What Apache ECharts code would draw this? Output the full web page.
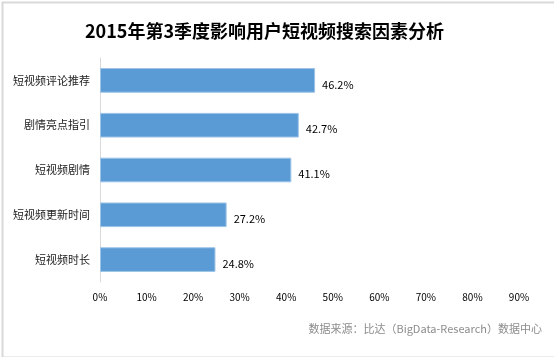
<!DOCTYPE html>
<html><head><meta charset="utf-8">
<script src="https://cdn.jsdelivr.net/npm/echarts@6/dist/echarts.min.js"></script>
<style>html,body{margin:0;padding:0;background:#fff}#c{width:554px;height:357px}</style>
</head><body><div id="c"></div>
<script>
const categories = ['短视频评论推荐', '剧情亮点指引', '短视频剧情', '短视频更新时间', '短视频时长'];
const values = [46.2, 42.7, 41.1, 27.2, 24.8];
const xTicks = [0, 10, 20, 30, 40, 50, 60, 70, 80, 90];
const titleText = '2015年第3季度影响用户短视频搜索因素分析';
const sourceText = '数据来源：比达（BigData-Research）数据中心';

const chart = echarts.init(document.getElementById('c'));
chart.setOption({
  animation: false,
  backgroundColor: '#fff',
  title: {
    text: titleText, left: 80, top: 17,
    textStyle: { fontFamily: 'Noto Sans CJK SC', fontSize: 18, fontWeight: 'bold', color: '#000' }
  },
  graphic: [
    { type: 'rect', left: 0, top: 0, shape: { width: 553, height: 355 }, style: { fill: 'none', stroke: '#d9d9d9', lineWidth: 2 }, silent: true },
    { type: 'text', right: 12, top: 323, style: { text: sourceText, fill: '#8c8c8c', font: '11px "Noto Sans CJK SC"' } }
  ],
  grid: { left: 100, right: 35, top: 58, bottom: 75, containLabel: false },
  xAxis: {
    type: 'value', min: xTicks[0], max: xTicks[xTicks.length - 1], interval: 10,
    axisLine: { show: false }, axisTick: { show: false }, splitLine: { show: false },
    axisLabel: { formatter: '{value}%', fontSize: 10, color: '#000', fontFamily: 'Noto Sans CJK SC', margin: 10 }
  },
  yAxis: {
    type: 'category', data: categories, inverse: true,
    axisLine: { show: true, lineStyle: { color: '#d9d9d9', width: 1 } },
    axisTick: { show: false },
    axisLabel: { fontSize: 11, color: '#222', fontFamily: 'Noto Sans CJK SC', margin: 10 }
  },
  series: [{
    type: 'bar', data: values, barWidth: '55%',
    itemStyle: { color: '#5b9bd5', borderColor: '#9dc3e6', borderWidth: 1 },
    label: { show: true, position: 'right', distance: 7, offset: [0, 4], formatter: '{c}%', fontSize: 11, color: '#000', fontFamily: 'Noto Sans CJK SC' }
  }]
});
</script></body></html>
